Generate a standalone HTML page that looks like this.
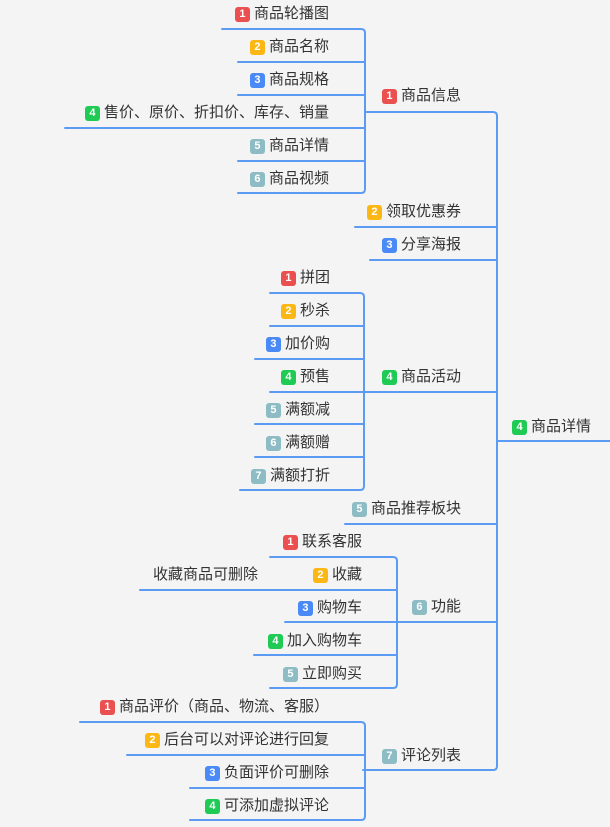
<!DOCTYPE html>
<html><head><meta charset="utf-8"><style>
body{margin:0;background:#f4f4f4;width:610px;height:827px;overflow:hidden;position:relative;font-family:"Liberation Sans","Noto Sans CJK SC",sans-serif;}
.n{position:absolute;height:20px;line-height:20px;font-size:15px;color:#333;white-space:nowrap;display:flex;align-items:center;}
.b{display:inline-block;width:15px;height:15px;border-radius:3px;color:#fff;font-size:11px;font-weight:bold;line-height:15px;text-align:center;margin-right:4px;}
.r{background:#e9504f}.o{background:#fdb714}.u{background:#4a8af6}.g{background:#1fcb55}.t{background:#8dbcc4}
svg{position:absolute;left:0;top:0}
</style></head><body>
<svg width="610" height="827" fill="none" stroke="#5b9bf3" stroke-width="2" stroke-linecap="round">
<!-- main -->
<path d="M365 112 H493 Q497 112 497 116 V766 Q497 770 493 770 H363"/>
<path d="M497 441 H610"/>
<path d="M355 227 H497 M370 260 H497 M365 392 H497 M345 524 H497 M285 622 H497"/>
<!-- 商品信息 -->
<path d="M222 29 H361 Q365 29 365 33 V189 Q365 193 361 193 H238"/>
<path d="M238 62 H365 M238 95 H365 M65 128 H365 M238 161 H365"/>
<!-- 商品活动 -->
<path d="M270 293 H360 Q364 293 364 297 V486 Q364 490 360 490 H240"/>
<path d="M270 326 H364 M255 359 H364 M270 392 H364 M255 424 H364 M255 457 H364"/>
<!-- 功能 -->
<path d="M270 557 H393 Q397 557 397 561 V684 Q397 688 393 688 H270"/>
<path d="M140 590 H397 M254 655 H397"/>
<!-- 评论 -->
<path d="M80 722 H361 Q365 722 365 726 V816 Q365 820 361 820 H190"/>
<path d="M127 755 H365 M190 788 H365"/>
</svg>

<div class="n" style="left:512px;top:417px"><span class="b g">4</span>商品详情</div>

<div class="n" style="right:149px;top:86px"><span class="b r">1</span>商品信息</div>
<div class="n" style="right:149px;top:202px"><span class="b o">2</span>领取优惠券</div>
<div class="n" style="right:149px;top:235px"><span class="b u">3</span>分享海报</div>
<div class="n" style="right:149px;top:367px"><span class="b g">4</span>商品活动</div>
<div class="n" style="right:149px;top:499px"><span class="b t">5</span>商品推荐板块</div>
<div class="n" style="right:149px;top:597px"><span class="b t">6</span>功能</div>
<div class="n" style="right:149px;top:746px"><span class="b t">7</span>评论列表</div>

<div class="n" style="right:281px;top:4px"><span class="b r">1</span>商品轮播图</div>
<div class="n" style="right:281px;top:37px"><span class="b o">2</span>商品名称</div>
<div class="n" style="right:281px;top:70px"><span class="b u">3</span>商品规格</div>
<div class="n" style="right:281px;top:103px"><span class="b g">4</span>售价、原价、折扣价、库存、销量</div>
<div class="n" style="right:281px;top:136px"><span class="b t">5</span>商品详情</div>
<div class="n" style="right:281px;top:169px"><span class="b t">6</span>商品视频</div>

<div class="n" style="right:280px;top:268px"><span class="b r">1</span>拼团</div>
<div class="n" style="right:280px;top:301px"><span class="b o">2</span>秒杀</div>
<div class="n" style="right:280px;top:334px"><span class="b u">3</span>加价购</div>
<div class="n" style="right:280px;top:367px"><span class="b g">4</span>预售</div>
<div class="n" style="right:280px;top:400px"><span class="b t">5</span>满额减</div>
<div class="n" style="right:280px;top:433px"><span class="b t">6</span>满额赠</div>
<div class="n" style="right:280px;top:466px"><span class="b t">7</span>满额打折</div>

<div class="n" style="right:248px;top:532px"><span class="b r">1</span>联系客服</div>
<div class="n" style="right:248px;top:565px"><span class="b o">2</span>收藏</div>
<div class="n" style="left:153px;top:565px">收藏商品可删除</div>
<div class="n" style="right:248px;top:598px"><span class="b u">3</span>购物车</div>
<div class="n" style="right:248px;top:631px"><span class="b g">4</span>加入购物车</div>
<div class="n" style="right:248px;top:664px"><span class="b t">5</span>立即购买</div>

<div class="n" style="right:281px;top:697px"><span class="b r">1</span>商品评价（商品、物流、客服）</div>
<div class="n" style="right:281px;top:730px"><span class="b o">2</span>后台可以对评论进行回复</div>
<div class="n" style="right:281px;top:763px"><span class="b u">3</span>负面评价可删除</div>
<div class="n" style="right:281px;top:796px"><span class="b g">4</span>可添加虚拟评论</div>
</body></html>
